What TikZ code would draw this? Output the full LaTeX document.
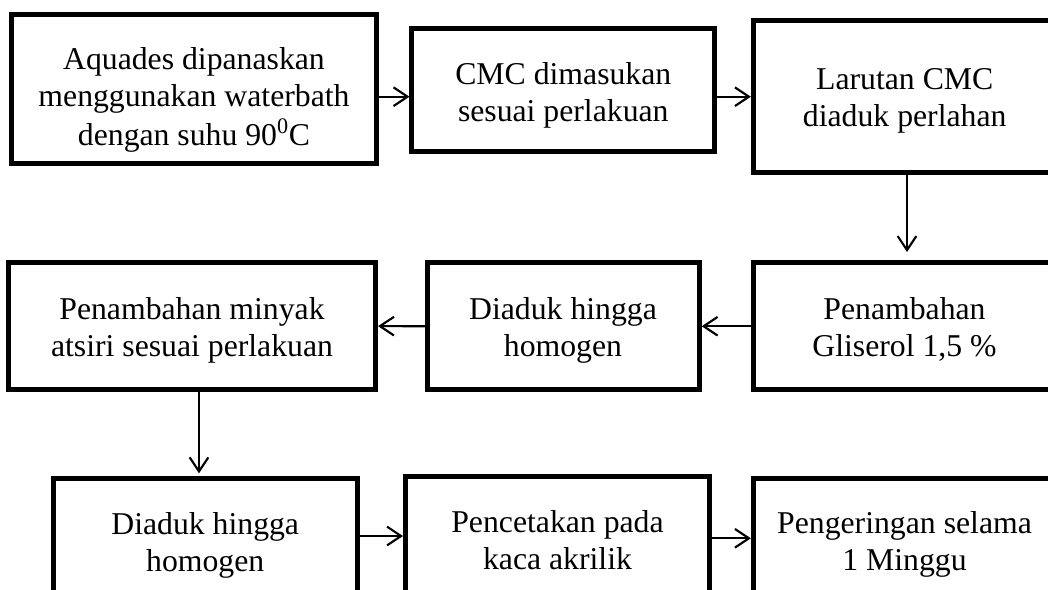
\documentclass[tikz,border=0pt]{standalone}
\usepackage{fontspec}
\setmainfont{Liberation Serif}
\usetikzlibrary{arrows.meta,calc}
\begin{document}
\begin{tikzpicture}[x=0.75pt,y=-0.75pt,
  box/.style={draw, rectangle, line width=3.75pt, inner sep=0pt},
  txt/.style={font=\fontsize{23.8pt}{27.6pt}\selectfont, align=center, inner sep=0pt},
  arr/.style={line width=1.6pt, -{Straight Barb[length=10.5pt,width=14pt]}}]
\useasboundingbox (0,0) rectangle (1048,589);
\clip (0,0) rectangle (1048,589);
% boxes
\node[box, minimum width=273.75pt, minimum height=111.4pt] (b1) at (194,88.75) {};
\node[box, minimum width=226.9pt, minimum height=91.9pt] (b2) at (563.25,90.25) {};
\node[box, minimum width=227pt, minimum height=114.4pt] (b3) at (904.7,96.55) {};
\node[box, minimum width=275pt, minimum height=95.4pt] (b4) at (192.2,326.1) {};
\node[box, minimum width=203.8pt, minimum height=95.6pt] (b5) at (563.35,326.25) {};
\node[box, minimum width=227pt, minimum height=95.6pt] (b6) at (904.7,326.25) {};
\node[box, minimum width=228.2pt, minimum height=95.8pt] (b7) at (205.4,542.15) {};
\node[box, minimum width=228pt, minimum height=97.4pt] (b8) at (557.5,541.1) {};
\node[box, minimum width=227pt, minimum height=95.4pt] (b9) at (904.7,542.4) {};
% texts
\node[txt] (t1) at (194,100.5) {\strut Aquades dipanaskan\\\strut menggunakan waterbath\\\strut dengan suhu 90\textsuperscript{0}C};
\node[txt] (t2) at (563.3,95.9) {\strut CMC dimasukan\\\strut sesuai perlakuan};
\node[txt] (t3) at (904.7,100.6) {\strut Larutan CMC\\\strut diaduk perlahan};
\node[txt] (t4) at (192,330.3) {\strut Penambahan minyak\\\strut atsiri sesuai perlakuan};
\node[txt] (t5) at (563,330.3) {\strut Diaduk hingga\\\strut homogen};
\node[txt] (t6) at (904.5,330.3) {\strut Penambahan\\\strut Gliserol 1,5 \%};
\node[txt] (t7) at (205.2,545.9) {\strut Diaduk hingga\\\strut homogen};
\node[txt] (t8) at (557.5,543.9) {\strut Pencetakan pada\\\strut kaca akrilik};
\node[txt] (t9) at (904.5,544.6) {\strut Pengeringan selama\\\strut 1 Minggu};
% connectors
\coordinate (r1) at (0,96.7);
\coordinate (c3) at (907,0);
\coordinate (c4) at (199,0);
\coordinate (r3a) at (0,536);
\coordinate (r3b) at (0,538.3);
\draw[arr] (b1.east |- r1) -- (b2.west |- r1);
\draw[arr] (b2.east |- r1) -- (b3.west |- r1);
\draw[arr] (b3.south -| c3) -- ($(b6.north -| c3)+(0,-8)$);
\draw[arr] (b6.west) -- (b5.east);
\draw[arr] (b5.west) -- (b4.east);
\draw[arr] (b4.south -| c4) -- ($(b7.north -| c4)+(0,-2.5)$);
\draw[arr] (b7.east |- r3a) -- (b8.west |- r3a);
\draw[arr] (b8.east |- r3b) -- (b9.west |- r3b);
\end{tikzpicture}
\end{document}
